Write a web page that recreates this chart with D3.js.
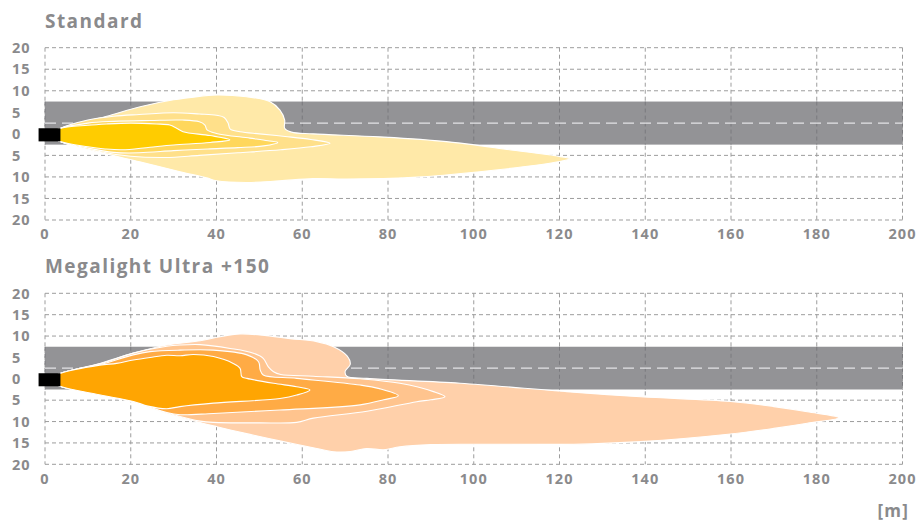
<!DOCTYPE html>
<html>
<head>
<meta charset="utf-8">
<script src="https://cdn.jsdelivr.net/npm/d3@7"></script>
<style>
  body { margin: 0; background: #fff; }
  svg text { font-family: "Open Sans", sans-serif; font-weight: 700; fill: #8a8a8c; }
</style>
</head>
<body>
<svg id="chart"></svg>
<script>
const width = 917;
const height = 522;

// axes (metres)
const xTicks = [0, 20, 40, 60, 80, 100, 120, 140, 160, 180, 200];
const yTicks = [20, 15, 10, 5, 0, -5, -10, -15, -20];
const yTickLabels = ["20", "15", "10", "5", "0", "5", "10", "15", "20"];
const roadEdges = [-2.5, 7.5];
const laneDivider = 2.5;
const lamp = [[-1.5, -1.75], [3.6, 1.3]];

// Standard - isolux contours, outer to inner, [distance, lateral]
const standardL1 = [[3.4,1.2],[10,3.0],[14.4,4.1],[22.2,6.3],[30,7.9],[36,8.7],[39.2,9.0],[47,8.6],[52.4,7.5],[54.8,5.5],[55.9,3.2],[55.9,1.3],[57.5,0.4],[62.5,0.0],[78,-0.7],[93.6,-1.8],[109.2,-3.8],[119,-5.1],[122.4,-5.8],[119,-6.6],[101.4,-8.8],[85.8,-10.1],[70.3,-10.5],[62.5,-10.4],[54.8,-10.9],[47,-11.3],[40,-10.9],[37.7,-10.2],[31.5,-8.8],[22.1,-6.5],[12.8,-4.3],[3.4,-1.7],[1,-0.25]];
const standardL2 = [[3.4,1.2],[10,3.2],[16,4.1],[22,4.5],[30,4.9],[36,4.6],[40,4.3],[41.8,3.8],[42.7,2.5],[43.2,1.1],[45.5,0.5],[50,0.0],[56,-0.6],[62,-1.3],[66.5,-2.2],[62,-3.0],[55,-3.7],[45,-4.4],[36,-5.0],[28,-5.5],[20,-5.2],[12,-4.0],[3.4,-1.7],[1,-0.25]];
const standardL3 = [[3.4,1.2],[10,2.5],[16,2.9],[24.5,3.1],[32,3.2],[36,2.8],[37.3,2.05],[37.8,0.9],[40,0.1],[47.8,-1.0],[52,-1.6],[54.3,-2.0],[51,-2.8],[45,-3.2],[38,-3.5],[30,-3.9],[22,-4.4],[16,-4.3],[10,-3.3],[3.4,-1.7],[1,-0.25]];
const standardL4 = [[3.4,1.2],[10,2.0],[14.4,2.3],[20,2.5],[26,2.3],[29.1,2.05],[30.7,1.3],[32.2,0.5],[38.5,-0.4],[43.1,-1.4],[38.5,-2.0],[30,-2.6],[24.5,-3.1],[18,-3.7],[14,-3.5],[10,-3.0],[3.4,-1.7],[1,-0.25]];

// Megalight Ultra +150
const megaL1 = [[3.4,1.2],[12.8,3.6],[20.6,6.0],[28.4,7.9],[36.2,8.9],[40.1,9.7],[45.5,10.5],[51.7,10.1],[57.2,9.4],[63.4,8.7],[67.3,7.5],[70.4,5.4],[71.2,3.4],[70,1.7],[70.4,0.6],[75.1,0.1],[96.8,-1.05],[121.7,-3.0],[138.9,-4.2],[159.9,-5.3],[170,-6.5],[177.8,-7.7],[185.1,-9.1],[177.8,-10.4],[170,-11.6],[159.9,-12.9],[138.9,-14.7],[123.3,-15.3],[100,-15.3],[90,-15.4],[82.8,-15.9],[79,-16.6],[75,-16.3],[71.2,-17.0],[67.3,-17.05],[63.4,-16.3],[55.6,-14.7],[47.8,-13.0],[40.1,-11.2],[28.4,-8.1],[20.6,-5.4],[12,-3.6],[3.4,-1.7],[1,-0.25]];
const megaL2 = [[3.4,1.2],[12.8,3.5],[20.6,6.0],[28.4,7.6],[31.5,7.9],[36.2,8.0],[43.2,7.1],[48.6,6.0],[50.9,4.8],[52.1,2.8],[53.3,1.65],[55,1.0],[62.6,0.6],[73.5,0.0],[82.8,-1.05],[90.6,-3.0],[93.3,-4.2],[90,-4.9],[86.7,-5.35],[75.1,-7.6],[62.6,-9.2],[58.7,-10.2],[50,-10.3],[39.3,-10.2],[36.2,-9.9],[30,-8.4],[20.6,-5.4],[12,-3.6],[3.4,-1.7],[1,-0.25]];
const megaL3 = [[3.4,1.2],[12.8,3.3],[20.6,5.6],[24.5,6.35],[31.5,6.7],[39.3,6.7],[47.1,5.6],[49.8,4.0],[50.2,2.05],[50.9,0.9],[58.7,0.1],[73.5,-1.45],[78,-2.3],[82.4,-3.95],[79,-4.9],[73.5,-6.1],[54.8,-7.3],[39.3,-8.1],[31.5,-8.4],[28.4,-7.9],[20.6,-5.4],[12,-3.6],[3.4,-1.7],[1,-0.25]];
const megaL4 = [[3.4,1.2],[12.8,3.2],[16.7,3.6],[20.6,4.4],[24.5,5.0],[28.4,5.5],[31.5,5.4],[34.6,5.7],[39.3,5.2],[43.9,3.6],[45.5,2.45],[45.9,0.5],[47.1,0.1],[53.3,-1.05],[58.7,-1.85],[61.8,-2.6],[58.7,-3.8],[54.8,-4.6],[39.3,-5.7],[31.5,-6.5],[28.4,-7.0],[24,-6.4],[20.6,-5.3],[12,-3.6],[3.4,-1.7],[1,-0.25]];

const panels = [
  {title: "Standard", top: 47.7, bottom: 220, labelY: 239, titleY: 28,
   beams: [standardL1, standardL2, standardL3, standardL4],
   colors: ["#ffe9a8", "#ffe08a", "#ffd75c", "#ffcc00"]},
  {title: "Megalight Ultra +150", top: 293.3, bottom: 464.3, labelY: 484, titleY: 273,
   beams: [megaL1, megaL2, megaL3, megaL4],
   colors: ["#ffd0aa", "#ffc48e", "#ffab45", "#ffa502"]}
];

const svg = d3.select("#chart")
  .attr("width", width)
  .attr("height", height);

const x = d3.scaleLinear().domain([0, 200]).range([45, 902.5]);

panels.forEach(p => drawPanel(p));

svg.append("text")
  .attr("x", 909)
  .attr("y", 517)
  .attr("text-anchor", "end")
  .style("font-size", "17px")
  .style("letter-spacing", "1.2px")
  .text("[m]");

function drawPanel(p) {
  const y = d3.scaleLinear().domain([-20, 20]).range([p.bottom, p.top]);
  const g = svg.append("g");

  // horizontal grid (hidden under the road)
  g.selectAll(".hgrid")
    .data(yTicks.filter(d => d < roadEdges[0] || d > roadEdges[1]))
    .enter().append("line")
    .attr("x1", x(0)).attr("x2", x(200))
    .attr("y1", d => y(d)).attr("y2", d => y(d))
    .attr("stroke", "#9d9d9d")
    .attr("stroke-dasharray", "4,3");

  g.selectAll(".vgrid")
    .data(xTicks)
    .enter().append("line")
    .attr("x1", d => x(d)).attr("x2", d => x(d))
    .attr("y1", y(20)).attr("y2", y(-20))
    .attr("stroke", "#9d9d9d")
    .attr("stroke-dasharray", "4,3");

  // road
  g.append("rect")
    .attr("x", x(0))
    .attr("width", x(200) - x(0))
    .attr("y", y(roadEdges[1]))
    .attr("height", y(roadEdges[0]) - y(roadEdges[1]))
    .attr("fill", "#939396");

  g.selectAll(".rgrid")
    .data(xTicks)
    .enter().append("line")
    .attr("x1", d => x(d)).attr("x2", d => x(d))
    .attr("y1", y(roadEdges[1])).attr("y2", y(roadEdges[0]))
    .attr("stroke", "#7a7a7e")
    .attr("stroke-dasharray", "4,3");

  g.append("line")
    .attr("x1", x(0)).attr("x2", x(200))
    .attr("y1", y(laneDivider)).attr("y2", y(laneDivider))
    .attr("stroke", "#e4e4e6")
    .attr("stroke-width", 1.2)
    .attr("stroke-dasharray", "11,6");

  // beam contours
  const line = d3.line()
    .x(d => x(d[0]))
    .y(d => y(d[1]))
    .curve(d3.curveCatmullRomClosed.alpha(0.5));

  g.selectAll(".beam")
    .data(p.beams)
    .enter().append("path")
    .attr("d", line)
    .attr("fill", (d, i) => p.colors[i])
    .attr("stroke", "#fff")
    .attr("stroke-width", 1.1);

  // headlamp
  g.append("rect")
    .attr("x", x(lamp[0][0]))
    .attr("y", y(lamp[1][1]))
    .attr("width", x(lamp[1][0]) - x(lamp[0][0]))
    .attr("height", y(lamp[0][1]) - y(lamp[1][1]))
    .attr("fill", "#000");

  // tick labels
  g.selectAll(".ylab")
    .data(yTicks)
    .enter().append("text")
    .attr("x", 12)
    .attr("y", d => y(d))
    .attr("dy", "0.36em")
    .style("font-size", "14.5px")
    .style("letter-spacing", "1px")
    .text((d, i) => yTickLabels[i]);

  g.selectAll(".xlab")
    .data(xTicks)
    .enter().append("text")
    .attr("x", d => x(d))
    .attr("y", p.labelY)
    .attr("text-anchor", "middle")
    .style("font-size", "14.5px")
    .style("letter-spacing", "1px")
    .text(d => d);

  g.append("text")
    .attr("x", 45)
    .attr("y", p.titleY)
    .style("font-size", "19px")
    .style("letter-spacing", "1.45px")
    .text(p.title);
}
</script>
</body>
</html>
